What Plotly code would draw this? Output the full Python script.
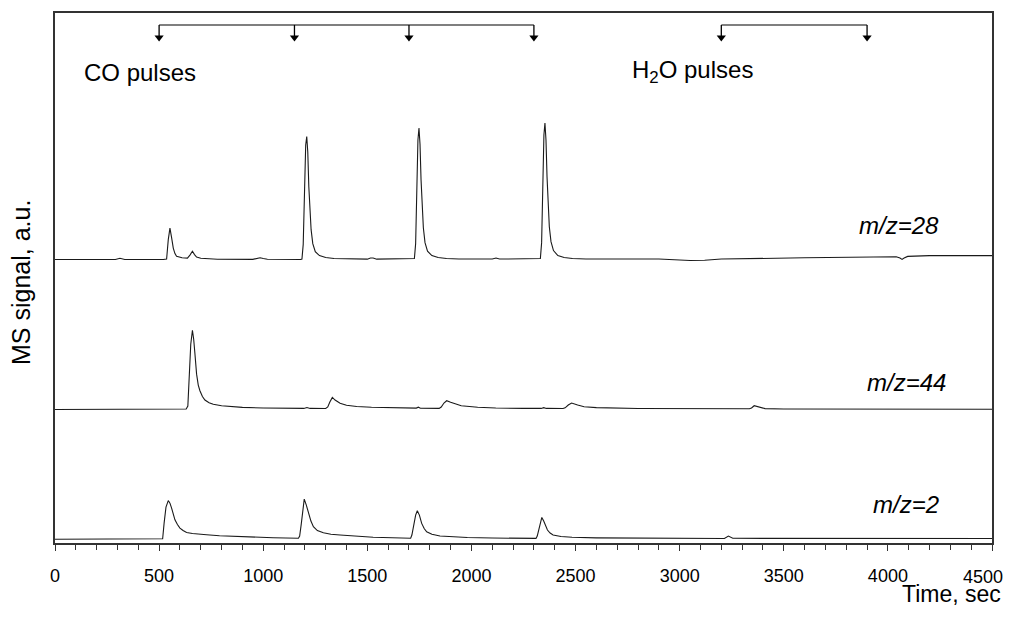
import plotly.graph_objects as go

# pulse times (sec)
co_pulses = [500, 1150, 1700, 2300]
h2o_pulses = [3200, 3900]

# x tick positions and labels
tick_vals = [0, 500, 1000, 1500, 2000, 2500, 3000, 3500, 4000, 4500]
tick_text = ['0', '500', '1000', '1500', '2000', '2500', '3000', '3500', '4000', '4500']

# m/z=28 trace, signal above its baseline (a.u.)
t28 = [0, 290, 312, 335, 520, 536, 544, 552, 560, 568, 576, 584, 610, 636, 648, 660, 670, 680, 700, 730,
       780, 950, 970, 985, 1000, 1020, 1180, 1186, 1192, 1198, 1204, 1209, 1214, 1219, 1224, 1230, 1238,
       1250, 1270, 1300, 1340, 1400, 1500, 1515, 1528, 1545, 1720, 1726, 1732, 1738, 1743, 1748, 1753,
       1758, 1763, 1769, 1777, 1789, 1810, 1840, 1880, 1940, 2100, 2118, 2135, 2325, 2331, 2337, 2343,
       2348, 2353, 2358, 2363, 2368, 2374, 2382, 2394, 2415, 2445, 2485, 2550, 2900, 2980, 3050, 3120,
       3200, 3600, 3900, 4040, 4058, 4068, 4078, 4095, 4200, 4500]
s28 = [0, 0, 1.3, 0, 0, 0.5, 20, 31.5, 22, 11.5, 6, 3.3, 1.8, 1.5, 4.5, 8.3, 5, 2.5, 1.3, 0.7,
       0.3, 0.2, 1.5, 1.8, 1.0, 0.3, 0, 0.5, 15, 70, 115, 123.5, 108, 73, 48, 30, 16,
       8, 4, 2, 1, 0.5, 0.4, 1.6, 1.6, 0.4, 0.3, 1, 16, 75, 120, 132, 116,
       80, 52, 32, 17, 8.5, 4, 2, 1, 0.6, 0.5, 1.5, 0.5, 0.3, 1, 17, 78,
       125, 137, 120, 83, 54, 33, 18, 9, 4, 2, 1, 0.5, 0.5, -0.3, -1.0, -0.7,
       0.5, 1.8, 2.5, 2.8, 1.5, 0.2, 1.5, 3.2, 4, 4]

# m/z=44 trace
t44 = [0, 600, 630, 638, 645, 652, 660, 666, 672, 680, 688, 696, 708, 720, 740, 760, 800, 840, 900, 1000,
       1100, 1195, 1210, 1225, 1300, 1310, 1320, 1332, 1345, 1369, 1400, 1449, 1520, 1609, 1700, 1735,
       1745, 1755, 1845, 1855, 1868, 1881, 1900, 1951, 2030, 2117, 2250, 2335, 2347, 2360, 2440, 2450,
       2465, 2481, 2510, 2541, 2600, 2688, 2800, 3335, 3345, 3358, 3368, 3385, 3410, 3500, 4500]
s44 = [-0.5, -0.3, 0, 3, 31.5, 65, 79, 70, 55.5, 35, 24, 18.3, 12.5, 9, 6.3, 4.7, 3.2, 2.3, 1.6, 1,
       0.7, 0.6, 1.5, 0.6, 0.5, 2, 7, 11.6, 9, 5.7, 3.8, 2.5, 1.7, 1.2, 0.9, 0.9,
       1.8, 0.8, 0.6, 2, 6, 8.3, 6.8, 3.3, 1.8, 1, 0.6, 0.6, 1.4, 0.6, 0.5, 1.2,
       4, 6, 4, 2.3, 1.4, 1, 0.5, 0.3, 1, 3.3, 2.8, 1.2, 0.4, 0, -0.3]

# m/z=2 trace
t2 = [0, 500, 517, 524, 533, 544, 552, 560, 568, 576, 588, 600, 615, 632, 660, 690, 728, 790, 856, 950,
      1048, 1169, 1175, 1182, 1190, 1197, 1207, 1217, 1229, 1241, 1260, 1289, 1325, 1369, 1440, 1528,
      1620, 1708, 1714, 1722, 1732, 1740, 1750, 1761, 1773, 1785, 1810, 1849, 1900, 1980, 2100, 2200,
      2310, 2316, 2324, 2332, 2338, 2347, 2356, 2365, 2378, 2392, 2430, 2483, 2600, 2800, 3000, 3215,
      3234, 3255, 3400, 3700, 4000, 4300, 4500]
s2 = [-0.3, 0, 0.3, 16, 32, 38.6, 36, 31, 25, 19.3, 14.5, 11, 8.5, 6.6, 5.5, 4.8, 4.3, 3.3, 2.6, 1.8,
      1.3, 0.8, 3, 14, 32, 40, 34, 25.7, 18, 12.3, 8.5, 6.3, 4.8, 4, 2.7, 1.7,
      1.2, 0.8, 4, 14, 24, 28.3, 24, 15.7, 10.5, 7.3, 4.8, 3, 2.2, 1.5, 1, 0.8,
      0.6, 3, 11, 19, 21.7, 18, 13, 9, 6, 4, 2.5, 1.7, 1.1, 0.7, 0.5, 0.5,
      3, 0.8, 0.6, 0.5, 0.5, 0.5, 0.5]

# stacking offsets for the three traces
offsets = {'28': 284.5, '44': 134.5, '2': 4.0}

FONT = 'Liberation Sans, Arial, sans-serif'
line_style = dict(color='#1a1a1a', width=1.1)

fig = go.Figure()
for t, s, key in [(t28, s28, '28'), (t44, s44, '44'), (t2, s2, '2')]:
    fig.add_trace(go.Scatter(
        x=t, y=[v + offsets[key] for v in s],
        mode='lines', line=line_style, name='m/z=' + key, showlegend=False,
    ))

# pulse markers at the top: bracket, stems and arrow heads
BRACKET_Y = 520
HEAD_Y = 507.5
shapes = []
for group in [co_pulses, h2o_pulses]:
    shapes.append(dict(type='line', xref='x', yref='y', x0=group[0], x1=group[-1],
                       y0=BRACKET_Y, y1=BRACKET_Y, line=dict(color='#555555', width=1.5)))
    for p in group:
        shapes.append(dict(type='line', xref='x', yref='y', x0=p, x1=p,
                           y0=BRACKET_Y, y1=HEAD_Y, line=dict(color='black', width=1.3)))
all_pulses = co_pulses + h2o_pulses
fig.add_trace(go.Scatter(
    x=all_pulses, y=[HEAD_Y] * len(all_pulses), mode='markers',
    marker=dict(symbol='triangle-down', size=8, color='black', line=dict(width=0)),
    showlegend=False,
))

annotations = [
    dict(x=130, y=472, xref='x', yref='y', text='CO pulses', showarrow=False,
         xanchor='left', yanchor='middle', font=dict(family=FONT, size=24, color='black')),
    dict(x=2762, y=473, xref='x', yref='y', text='H<sub>2</sub>O pulses', showarrow=False,
         xanchor='left', yanchor='middle', font=dict(family=FONT, size=24, color='black')),
    dict(x=4053, y=319, xref='x', yref='y', text='<i>m/z=28</i>', showarrow=False,
         xanchor='center', yanchor='middle', font=dict(family=FONT, size=24, color='black')),
    dict(x=4090, y=161, xref='x', yref='y', text='<i>m/z=44</i>', showarrow=False,
         xanchor='center', yanchor='middle', font=dict(family=FONT, size=24, color='black')),
    dict(x=4087, y=39, xref='x', yref='y', text='<i>m/z=2</i>', showarrow=False,
         xanchor='center', yanchor='middle', font=dict(family=FONT, size=24, color='black')),
    # last tick label, pulled in so it stays inside the figure box
    dict(x=tick_vals[-1], y=-0.064, xref='x', yref='paper', text=tick_text[-1], showarrow=False,
         xanchor='right', yanchor='middle', xshift=13,
         font=dict(family=FONT, size=18, color='black')),
    dict(x=1.0117, y=-0.097, xref='paper', yref='paper', text='Time, sec', showarrow=False,
         xanchor='right', yanchor='middle', font=dict(family=FONT, size=23, color='black')),
    dict(x=-0.0363, y=0.4925, xref='paper', yref='paper', text='MS signal, a.u.', showarrow=False,
         textangle=-90, xanchor='center', yanchor='middle',
         font=dict(family=FONT, size=25, color='black')),
]

# the page body keeps its 8px margin, so the figure is laid out 16px smaller
fig.update_layout(
    width=998, height=601,
    margin=dict(l=47, r=14, t=3, b=66),
    plot_bgcolor='white', paper_bgcolor='white',
    annotations=annotations, shapes=shapes,
    showlegend=False,
    hovermode=False, dragmode=False,
)
fig.update_xaxes(
    range=[0, 4500], tickmode='array', tickvals=tick_vals,
    ticktext=tick_text[:-1] + [''],
    ticks='outside', ticklen=6, tickwidth=1, tickcolor='#333333',
    minor=dict(dtick=100, ticks='outside', ticklen=5, tickwidth=1, tickcolor='#333333'),
    tickfont=dict(family=FONT, size=18, color='black'),
    ticklabelstandoff=9,
    showgrid=False, zeroline=False,
    showline=True, linecolor='#333333', linewidth=2, mirror=True,
)
fig.update_yaxes(
    range=[0, 532], showticklabels=False, ticks='',
    showgrid=False, zeroline=False,
    showline=True, linecolor='#333333', linewidth=2, mirror=True,
)

fig.write_html("out.html", config={'displayModeBar': False, 'staticPlot': True})
